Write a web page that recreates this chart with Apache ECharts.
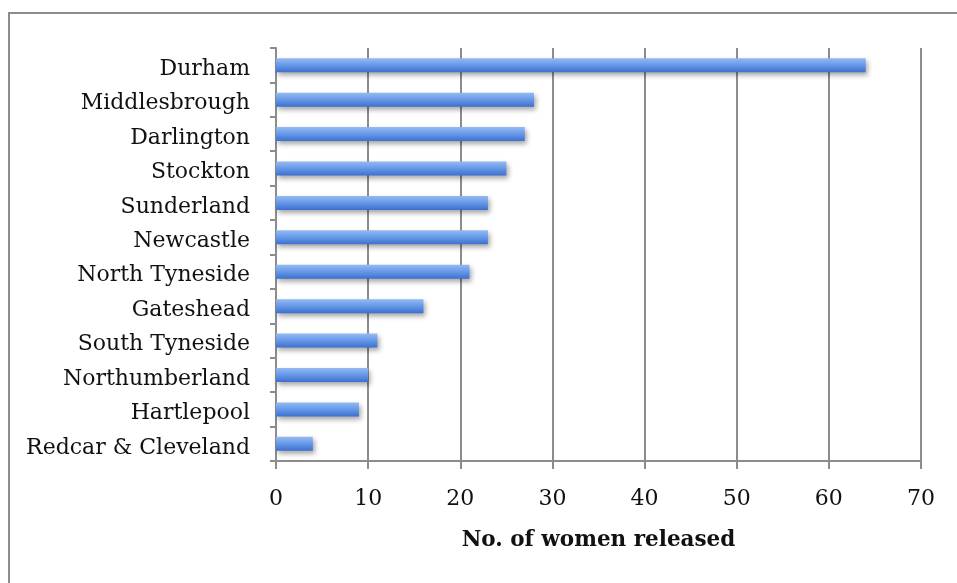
<!DOCTYPE html>
<html>
<head>
<meta charset="utf-8">
<script src="https://cdn.jsdelivr.net/npm/echarts@6/dist/echarts.min.js"></script>
<style>
  html, body { margin: 0; padding: 0; background: #fff; }
  #chart { width: 957px; height: 583px; }
</style>
</head>
<body>
<div id="chart"></div>
<script>
// regions listed bottom to top (category axis starts at the bottom)
const regions = ['Redcar & Cleveland', 'Hartlepool', 'Northumberland', 'South Tyneside', 'Gateshead',
    'North Tyneside', 'Newcastle', 'Sunderland', 'Stockton', 'Darlington', 'Middlesbrough', 'Durham'];
const womenReleased = [4, 9, 10, 11, 16, 21, 23, 23, 25, 27, 28, 64];
const xTicks = [0, 10, 20, 30, 40, 50, 60, 70];

const chart = echarts.init(document.getElementById('chart'));
const gray = '#8c8c8c';
const font = '"DejaVu Serif", "Liberation Serif", serif';

chart.setOption({
    animation: false,
    grid: { left: 276, right: 36, top: 48, bottom: 122 },
    graphic: [{
        type: 'rect',
        shape: { x: 9, y: 13, width: 1000, height: 1000 },
        style: { fill: 'none', stroke: gray, lineWidth: 2 },
        silent: true
    }],
    xAxis: {
        type: 'value',
        min: xTicks[0],
        max: xTicks[xTicks.length - 1],
        interval: 10,
        name: 'No. of women released',
        nameLocation: 'middle',
        nameGap: 68,
        nameTextStyle: { fontFamily: font, fontWeight: 'bold', fontSize: 21.5, color: '#111' },
        axisLine: { show: true, lineStyle: { color: gray, width: 2 } },
        axisTick: { show: true, length: 8, lineStyle: { color: gray, width: 2 } },
        axisLabel: { fontFamily: font, fontSize: 22, color: '#111', margin: 27 },
        splitLine: { show: true, lineStyle: { color: gray, width: 2 } }
    },
    yAxis: {
        type: 'category',
        data: regions,
        axisLine: { show: true, lineStyle: { color: gray, width: 2 } },
        axisTick: { show: true, length: 6, lineStyle: { color: gray, width: 2 } },
        axisLabel: {
            margin: 26,
            formatter: v => '{r|' + v + '}',
            rich: {
                r: { fontFamily: font, fontSize: 22, color: '#111', padding: [8, 0, 0, 0] }
            }
        }
    },
    series: [{
        type: 'bar',
        data: womenReleased,
        barWidth: 14,
        itemStyle: {
            color: new echarts.graphic.LinearGradient(0, 0, 0, 1, [
                { offset: 0, color: '#94baf3' },
                { offset: 0.5, color: '#6698e8' },
                { offset: 1, color: '#3c70cf' }
            ]),
            shadowColor: 'rgba(0,0,0,0.35)',
            shadowBlur: 5,
            shadowOffsetX: 2,
            shadowOffsetY: 3
        }
    }]
});
</script>
</body>
</html>
